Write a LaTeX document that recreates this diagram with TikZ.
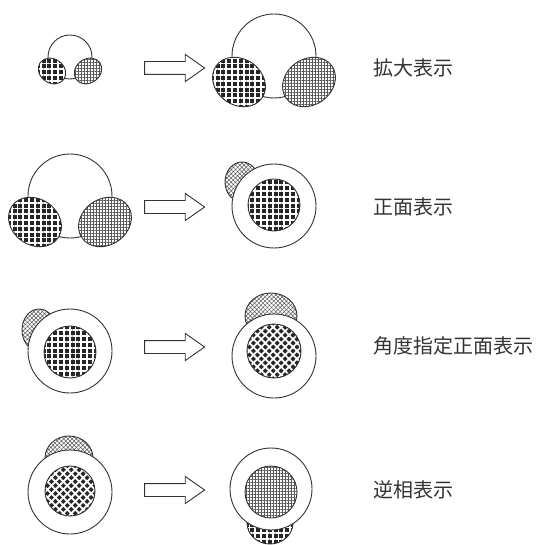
\documentclass[tikz,border=0pt]{standalone}
\usepackage{fontspec}
\newfontfamily\cjk{Noto Sans CJK JP}
\usepackage{tikz}
\usetikzlibrary{shapes.arrows,patterns.meta,positioning}

\begin{document}
\begin{tikzpicture}[
    x=1pt, y=-1pt,
    line/.style={draw=black!80, line width=0.9pt},
    darkgrid/.style={line, preaction={fill=black!85}, pattern={Hatch[angle=0,distance=5.8pt,line width=1.8pt]}, pattern color=white},
    darkdiag/.style={line, preaction={fill=black!85}, pattern={Hatch[angle=45,distance=5.6pt,line width=1.8pt]}, pattern color=white},
    lightgrid/.style={line, preaction={fill=white}, pattern={Hatch[angle=0,distance=3pt,line width=0.45pt]}, pattern color=black!65},
    lightdiag/.style={line, preaction={fill=white}, pattern={Hatch[angle=45,distance=3pt,line width=0.5pt]}, pattern color=black!65},
    ring/.style={line, fill=white},
    bigarrow/.style={shape=single arrow, draw=black!80, line width=0.9pt, fill=white, inner xsep=0pt, inner ysep=6pt,
        minimum height=60pt, minimum width=24pt, single arrow tip angle=70, single arrow head indent=0pt},
    caption/.style={anchor=west, inner sep=0pt, text=black!80, font=\cjk\fontsize{20}{24}\selectfont}
]
    \useasboundingbox (0,0) rectangle (536,545);

    % row 1: small headset -> large headset
    \draw[line] (70,57) circle [radius=22];
    \draw[darkgrid, rotate around={-35:(52,71)}] (52,71) ellipse [x radius=14.5, y radius=12];
    \draw[lightgrid, rotate around={35:(88,71)}] (88,71) ellipse [x radius=14.5, y radius=12];

    \draw[line] (274,56) circle [radius=42];
    \draw[darkgrid, rotate around={-35:(239,82)}] (239,82) ellipse [x radius=28, y radius=23];
    \draw[lightgrid, rotate around={35:(309,82)}] (309,82) ellipse [x radius=28, y radius=23];

    % row 2: large headset -> front view
    \draw[line] (70,196) circle [radius=42];
    \draw[darkgrid, rotate around={-35:(35,222)}] (35,222) ellipse [x radius=28, y radius=23];
    \draw[lightgrid, rotate around={35:(105,222)}] (105,222) ellipse [x radius=28, y radius=23];

    \draw[lightdiag] (242,182) ellipse [x radius=17, y radius=20];
    \draw[ring] (274,206) circle [radius=42];
    \draw[darkgrid] (274,205) circle [radius=26];

    % row 3: front view -> front view at a given angle
    \draw[lightdiag] (39,330) ellipse [x radius=17, y radius=21];
    \draw[ring] (70,351) circle [radius=42];
    \draw[darkgrid] (70,352) circle [radius=26];

    \draw[lightdiag] (271,316) ellipse [x radius=26, y radius=23];
    \draw[ring] (274,356) circle [radius=42];
    \draw[darkdiag] (274,351) circle [radius=27];

    % row 4: angled front view -> reversed phase
    \draw[lightdiag] (69,458) ellipse [x radius=24, y radius=22];
    \draw[ring] (70,492) circle [radius=42];
    \draw[darkdiag] (70,491) circle [radius=25];

    \draw[darkgrid] (270,523) ellipse [x radius=23, y radius=21];
    \draw[ring] (271,489) circle [radius=41];
    \draw[lightgrid] (271,492) circle [radius=26];

    % arrows
    \node[bigarrow] (arr1) at (170,68) {};
    \node[bigarrow] (arr2) at (170,207) {};
    \node[bigarrow] (arr3) at (170,347) {};
    \node[bigarrow] (arr4) at (170,490) {};

    % captions
    \node[caption] (zoom) at (373,68) {拡大表示};
    \node[caption] (front) at (373,207) {正面表示};
    \node[caption] (angle) at (373,346) {角度指定正面表示};
    \node[caption] (rev) at (373,490) {逆相表示};
\end{tikzpicture}
\end{document}
